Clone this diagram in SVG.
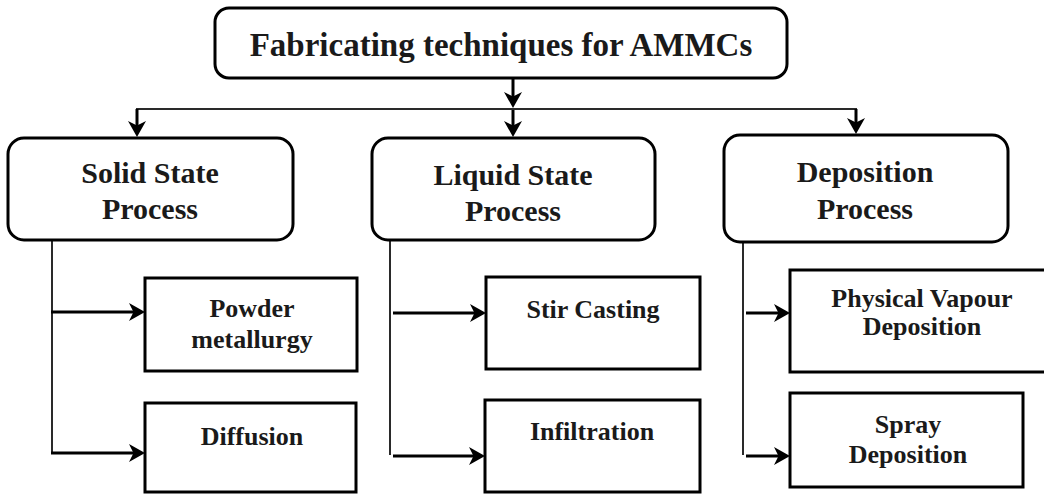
<svg xmlns="http://www.w3.org/2000/svg" width="1044" height="495" viewBox="0 0 1044 495">
  <style>
    .box { fill: #ffffff; stroke: #000000; stroke-width: 3; }
    .wire { fill: none; stroke: #000000; stroke-width: 3; }
    .thin { fill: none; stroke: #2a2a2a; stroke-width: 2; }
    .t { font-family: "Liberation Serif", "Times New Roman", serif; font-weight: bold; fill: #1a1a1a; text-anchor: middle; }
    .title { font-size: 33px; }
    .cat { font-size: 30px; }
    .sub { font-size: 26px; }
  </style>
  <defs>
    <!-- notched arrowhead; the line stops 8px short of the tip -->
    <marker id="arrow" markerUnits="userSpaceOnUse" viewBox="0 0 16 18" markerWidth="16" markerHeight="18" refX="8" refY="9" orient="auto">
      <path d="M0,0 L16,9 L0,18 L4.5,9 z" fill="#000000"/>
    </marker>
  </defs>

  <!-- connectors -->
  <g id="connectors">
    <!-- root to bus -->
    <line class="wire" x1="513" y1="78" x2="513" y2="100" marker-end="url(#arrow)"/>
    <line class="wire" x1="513" y1="108" x2="513" y2="129" marker-end="url(#arrow)"/>
    <line class="thin" x1="136" y1="109" x2="857" y2="109"/>
    <line class="wire" x1="137" y1="109" x2="137" y2="129" marker-end="url(#arrow)"/>
    <line class="wire" x1="856" y1="109" x2="856" y2="126" marker-end="url(#arrow)"/>

    <!-- solid state branches -->
    <line class="thin" x1="52" y1="240" x2="52" y2="454"/>
    <line class="wire" x1="51" y1="312" x2="137" y2="312" marker-end="url(#arrow)"/>
    <line class="wire" x1="51" y1="453" x2="137" y2="453" marker-end="url(#arrow)"/>

    <!-- liquid state branches -->
    <line class="thin" x1="390" y1="240" x2="390" y2="455"/>
    <line class="wire" x1="393" y1="313" x2="478" y2="313" marker-end="url(#arrow)"/>
    <line class="wire" x1="393" y1="456" x2="477" y2="456" marker-end="url(#arrow)"/>

    <!-- deposition branches -->
    <line class="thin" x1="743" y1="242" x2="743" y2="455"/>
    <line class="wire" x1="746" y1="313" x2="782" y2="313" marker-end="url(#arrow)"/>
    <line class="wire" x1="746" y1="456" x2="782" y2="456" marker-end="url(#arrow)"/>
  </g>

  <g id="root">
    <rect class="box" x="215" y="8" width="572" height="70" rx="14"/>
    <text class="t title" x="501" y="56">Fabricating techniques for AMMCs</text>
  </g>

  <g id="solid-state">
    <rect class="box" x="8" y="138" width="285" height="102" rx="16"/>
    <text class="t cat" x="150" y="183">Solid State</text>
    <text class="t cat" x="150" y="219">Process</text>
  </g>

  <g id="liquid-state">
    <rect class="box" x="372" y="138" width="283" height="102" rx="16"/>
    <text class="t cat" x="513" y="185">Liquid State</text>
    <text class="t cat" x="513" y="221">Process</text>
  </g>

  <g id="deposition">
    <rect class="box" x="724" y="135" width="284" height="107" rx="16"/>
    <text class="t cat" x="865" y="182">Deposition</text>
    <text class="t cat" x="865" y="219">Process</text>
  </g>

  <g id="powder-metallurgy">
    <rect class="box" x="145" y="278" width="212" height="93"/>
    <text class="t sub" x="252" y="317">Powder</text>
    <text class="t sub" x="252" y="348">metallurgy</text>
  </g>

  <g id="diffusion">
    <rect class="box" x="145" y="403" width="211" height="89"/>
    <text class="t sub" x="252" y="445">Diffusion</text>
  </g>

  <g id="stir-casting">
    <rect class="box" x="486" y="277" width="214" height="92"/>
    <text class="t sub" x="593" y="318">Stir Casting</text>
  </g>

  <g id="infiltration">
    <rect class="box" x="485" y="400" width="215" height="92"/>
    <text class="t sub" x="592" y="440">Infiltration</text>
  </g>

  <g id="pvd">
    <rect class="box" x="790" y="270" width="260" height="102"/>
    <text class="t sub" x="922" y="307">Physical Vapour</text>
    <text class="t sub" x="922" y="335">Deposition</text>
  </g>

  <g id="spray-deposition">
    <rect class="box" x="790" y="393" width="233" height="94"/>
    <text class="t sub" x="908" y="433">Spray</text>
    <text class="t sub" x="908" y="463">Deposition</text>
  </g>
</svg>
